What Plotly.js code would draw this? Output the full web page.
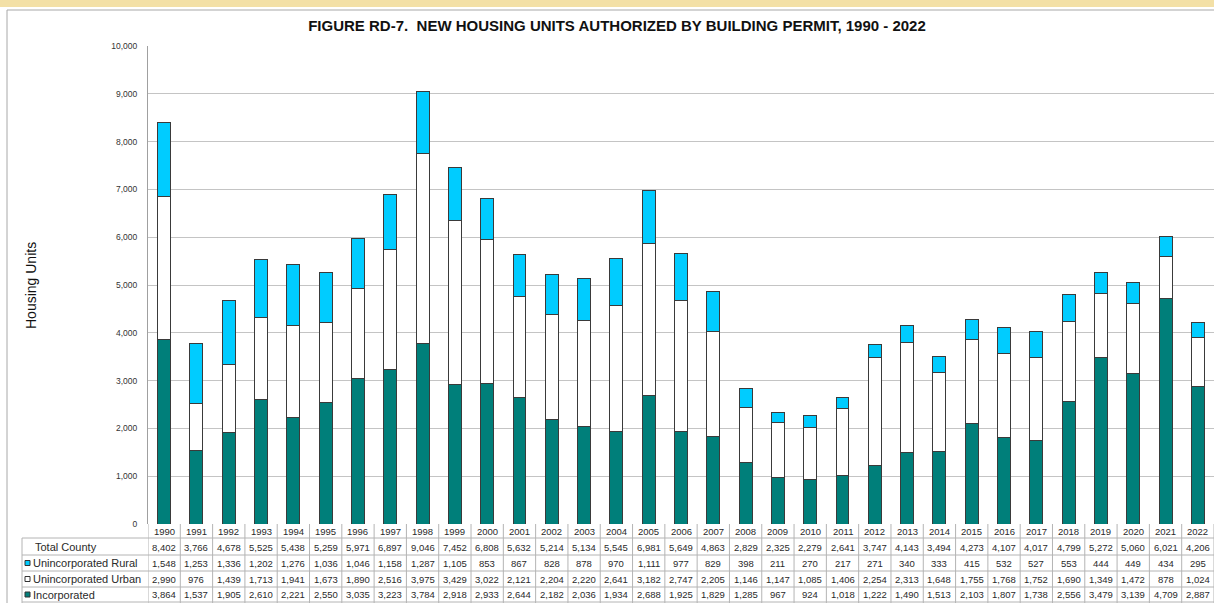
<!DOCTYPE html>
<html>
<head>
<meta charset="utf-8">
<script src="https://cdn.plot.ly/plotly-3.0.1.min.js"></script>
<style>
html,body{margin:0;padding:0;background:#fff;}
#chart{width:1214px;height:603px;}
</style>
</head>
<body>
<div id="chart"></div>
<script>
const years = ["1990","1991","1992","1993","1994","1995","1996","1997","1998","1999","2000","2001","2002","2003","2004","2005","2006","2007","2008","2009","2010","2011","2012","2013","2014","2015","2016","2017","2018","2019","2020","2021","2022"];
const rural = [1548,1253,1336,1202,1276,1036,1046,1158,1287,1105,853,867,828,878,970,1111,977,829,398,211,270,217,271,340,333,415,532,527,553,444,449,434,295];
const urban = [2990,976,1439,1713,1941,1673,1890,2516,3975,3429,3022,2121,2204,2220,2641,3182,2747,2205,1146,1147,1085,1406,2254,2313,1648,1755,1768,1752,1690,1349,1472,878,1024];
const incorporated = [3864,1537,1905,2610,2221,2550,3035,3223,3784,2918,2933,2644,2182,2036,1934,2688,1925,1829,1285,967,924,1018,1222,1490,1513,2103,1807,1738,2556,3479,3139,4709,2887];
const totalCounty = [8402,3766,4678,5525,5438,5259,5971,6897,9046,7452,6808,5632,5214,5134,5545,6981,5649,4863,2829,2325,2279,2641,3747,4143,3494,4273,4107,4017,4799,5272,5060,6021,4206];
const rowLabels = ["Total County","Unincorporated Rural","Unincorporated Urban","Incorporated"];
const titleText = "FIGURE RD-7.  NEW HOUSING UNITS AUTHORIZED BY BUILDING PERMIT, 1990 - 2022";
const yTitle = "Housing Units";

const FONT = '"Liberation Sans", Arial, sans-serif';
const L = 148, T = 46, PW = 1066, PH = 478, BOT = T + PH;
const px = p => (p - L) / PW;
const py = p => (BOT - p) / PH;

const cTeal = '#007f7a', cCyan = '#00ccff', cLine = '#3a3a3a', cGrid = '#c4c4c4', cCell = '#b4b4b4', cText = '#2a2a2a';

const traces = [
  {type:'bar', name:'Incorporated', x:years, y:incorporated, marker:{color:cTeal, line:{color:cLine, width:1}}},
  {type:'bar', name:'Unincorporated Urban', x:years, y:urban, marker:{color:'#ffffff', line:{color:cLine, width:1}}},
  {type:'bar', name:'Unincorporated Rural', x:years, y:rural, marker:{color:cCyan, line:{color:cLine, width:1}}}
];

const fmt = v => v.toLocaleString('en-US');
const rowsData = [totalCounty, rural, urban, incorporated];
const rowCenters = [547, 563, 579, 594.5];
const annotations = [];
const shapes = [];

// top band and frame
shapes.push({type:'rect', xref:'paper', yref:'paper', x0:px(0), x1:px(1214), y0:py(0), y1:py(7), fillcolor:'#f3e0a6', line:{width:0}, layer:'below'});
shapes.push({type:'line', xref:'paper', yref:'paper', x0:px(7), x1:px(1214), y0:py(10), y1:py(10), line:{color:'#a8a8a8', width:1}});
shapes.push({type:'line', xref:'paper', yref:'paper', x0:px(7), x1:px(7), y0:py(10), y1:py(603), line:{color:'#a8a8a8', width:1}});

// year row and values
years.forEach((yr, i) => {
  annotations.push({xref:'x', yref:'paper', x:i, y:py(531.5), text:yr, showarrow:false, xanchor:'center', yanchor:'middle', font:{family:FONT, size:9.5, color:cText}});
  rowsData.forEach((arr, r) => {
    annotations.push({xref:'x', yref:'paper', x:i, y:py(rowCenters[r]), text:fmt(arr[i]), showarrow:false, xanchor:'center', yanchor:'middle', font:{family:FONT, size:9.5, color:cText}});
  });
});
// table vertical lines
for (let i = 0; i <= years.length; i++) {
  shapes.push({type:'line', xref:'x', yref:'paper', x0:i-0.5, x1:i-0.5, y0:py(524), y1:py(603), line:{color:cCell, width:1}});
}
shapes.push({type:'line', xref:'paper', yref:'paper', x0:px(22), x1:px(22), y0:py(538), y1:py(603), line:{color:cCell, width:1}});
// table horizontal lines
[538, 555, 571, 587, 602].forEach(yy => {
  shapes.push({type:'line', xref:'paper', yref:'paper', x0:px(22), x1:1, y0:py(yy), y1:py(yy), line:{color:cCell, width:1}});
});
// row labels
annotations.push({xref:'paper', yref:'paper', x:px(33), y:py(rowCenters[0]), text:rowLabels[0], showarrow:false, xanchor:'left', yanchor:'middle', font:{family:FONT, size:11, color:cText}});
const markerColors = [cCyan, '#ffffff', cTeal];
for (let r = 1; r < 4; r++) {
  const cy = rowCenters[r];
  shapes.push({type:'rect', xref:'paper', yref:'paper', x0:px(25), x1:px(30), y0:py(cy+2.5), y1:py(cy-2.5), fillcolor:markerColors[r-1], line:{color:'#333', width:1}});
  annotations.push({xref:'paper', yref:'paper', x:px(31), y:py(cy), text:rowLabels[r], showarrow:false, xanchor:'left', yanchor:'middle', font:{family:FONT, size:11, color:cText}});
}
// y title
annotations.push({xref:'paper', yref:'paper', x:px(31), y:py(286), text:yTitle, textangle:-90, showarrow:false, xanchor:'center', yanchor:'middle', font:{family:FONT, size:14, color:'#111'}});

const layout = {
  width:1214, height:603,
  margin:{l:L, r:0, t:T, b:603-BOT, pad:0},
  paper_bgcolor:'#ffffff', plot_bgcolor:'#ffffff',
  showlegend:false,
  barmode:'stack', bargap:0.6,
  title:{text:'<b>'+titleText+'</b>', x:617/1214, xref:'container', xanchor:'center', y:1-26/603, yref:'container', yanchor:'middle', font:{family:FONT, size:15, color:'#111'}},
  xaxis:{type:'category', categoryorder:'array', categoryarray:years, range:[-0.5, years.length-0.5], showticklabels:false, showgrid:false, zeroline:false, showline:false, ticks:''},
  yaxis:{range:[0,10000], dtick:1000, tickformat:',d', showgrid:true, gridcolor:cGrid, gridwidth:1, zeroline:false, showline:true, linecolor:'#a0a0a0', linewidth:1, ticks:'', ticklabelstandoff:8, tickfont:{family:FONT, size:8.5, color:'#333'}},
  shapes:shapes,
  annotations:annotations
};

Plotly.newPlot('chart', traces, layout, {staticPlot:true, displayModeBar:false});
</script>
</body>
</html>
